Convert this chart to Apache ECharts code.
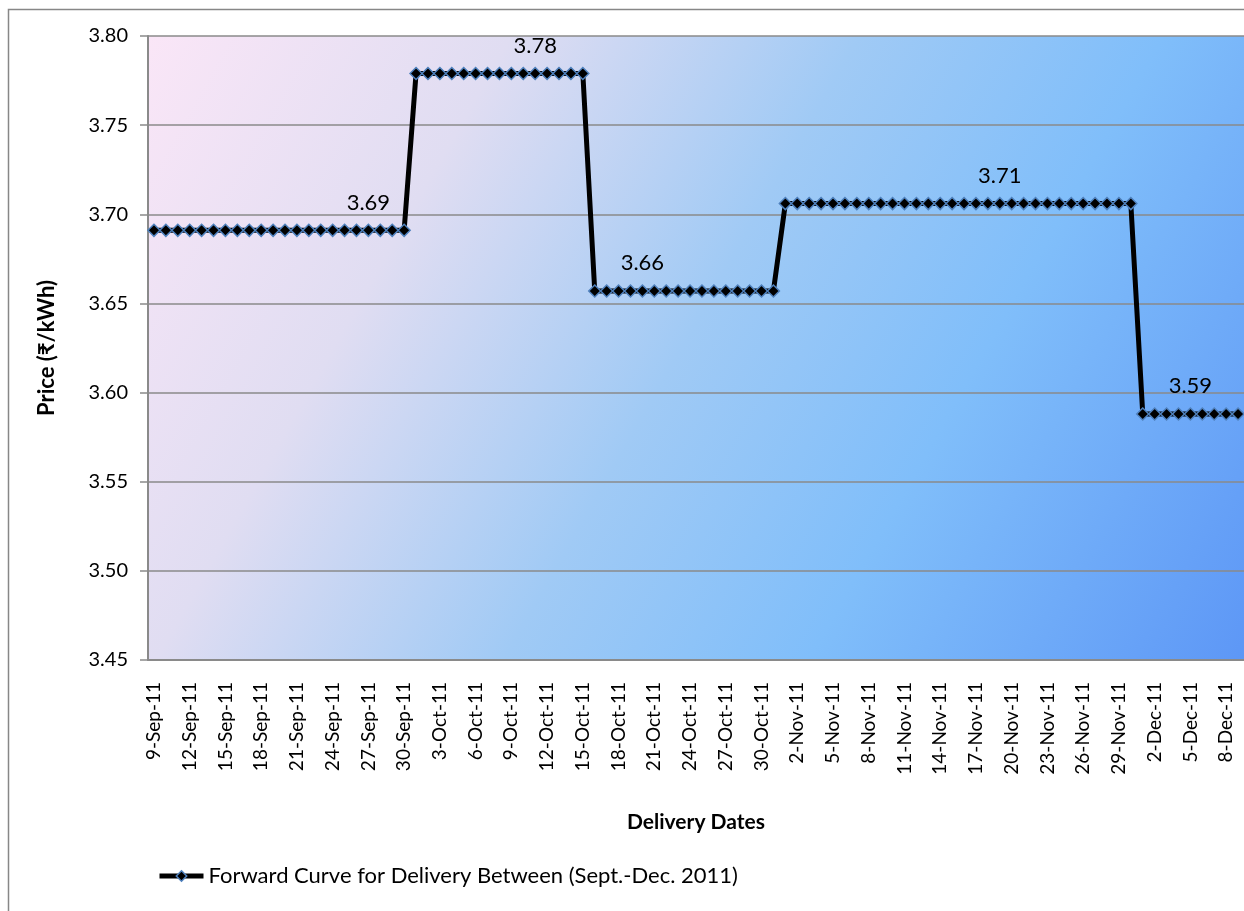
<!DOCTYPE html>
<html>
<head>
<meta charset="utf-8">
<style>
  html, body { margin: 0; padding: 0; background: #fff; }
  #chart { width: 1244px; height: 911px; }
</style>
<script src="https://cdn.jsdelivr.net/npm/echarts@6/dist/echarts.min.js"></script>
</head>
<body>
<div id="chart"></div>
<script>
// delivery dates, one per day
const dates = [
  '9-Sep-11', '10-Sep-11', '11-Sep-11', '12-Sep-11', '13-Sep-11', '14-Sep-11', '15-Sep-11', '16-Sep-11',
  '17-Sep-11', '18-Sep-11', '19-Sep-11', '20-Sep-11', '21-Sep-11', '22-Sep-11', '23-Sep-11', '24-Sep-11',
  '25-Sep-11', '26-Sep-11', '27-Sep-11', '28-Sep-11', '29-Sep-11', '30-Sep-11',
  '1-Oct-11', '2-Oct-11', '3-Oct-11', '4-Oct-11', '5-Oct-11', '6-Oct-11', '7-Oct-11', '8-Oct-11',
  '9-Oct-11', '10-Oct-11', '11-Oct-11', '12-Oct-11', '13-Oct-11', '14-Oct-11', '15-Oct-11',
  '16-Oct-11', '17-Oct-11', '18-Oct-11', '19-Oct-11', '20-Oct-11', '21-Oct-11', '22-Oct-11', '23-Oct-11',
  '24-Oct-11', '25-Oct-11', '26-Oct-11', '27-Oct-11', '28-Oct-11', '29-Oct-11', '30-Oct-11', '31-Oct-11',
  '1-Nov-11', '2-Nov-11', '3-Nov-11', '4-Nov-11', '5-Nov-11', '6-Nov-11', '7-Nov-11', '8-Nov-11',
  '9-Nov-11', '10-Nov-11', '11-Nov-11', '12-Nov-11', '13-Nov-11', '14-Nov-11', '15-Nov-11', '16-Nov-11',
  '17-Nov-11', '18-Nov-11', '19-Nov-11', '20-Nov-11', '21-Nov-11', '22-Nov-11', '23-Nov-11', '24-Nov-11',
  '25-Nov-11', '26-Nov-11', '27-Nov-11', '28-Nov-11', '29-Nov-11', '30-Nov-11',
  '1-Dec-11', '2-Dec-11', '3-Dec-11', '4-Dec-11', '5-Dec-11', '6-Dec-11', '7-Dec-11', '8-Dec-11', '9-Dec-11'
]

// forward price, Rs/kWh
const prices = [
  3.691, 3.691, 3.691, 3.691, 3.691, 3.691, 3.691, 3.691, 3.691, 3.691, 3.691,
  3.691, 3.691, 3.691, 3.691, 3.691, 3.691, 3.691, 3.691, 3.691, 3.691, 3.691,
  3.779, 3.779, 3.779, 3.779, 3.779, 3.779, 3.779, 3.779,
  3.779, 3.779, 3.779, 3.779, 3.779, 3.779, 3.779,
  3.657, 3.657, 3.657, 3.657, 3.657, 3.657, 3.657, 3.657,
  3.657, 3.657, 3.657, 3.657, 3.657, 3.657, 3.657, 3.657,
  3.706, 3.706, 3.706, 3.706, 3.706, 3.706, 3.706, 3.706, 3.706, 3.706,
  3.706, 3.706, 3.706, 3.706, 3.706, 3.706, 3.706, 3.706, 3.706, 3.706,
  3.706, 3.706, 3.706, 3.706, 3.706, 3.706, 3.706, 3.706, 3.706, 3.706,
  3.588, 3.588, 3.588, 3.588, 3.588, 3.588, 3.588, 3.588, 3.588
]

// points that carry a value label
const labelledDates = ['27-Sep-11', '11-Oct-11', '20-Oct-11', '19-Nov-11', '5-Dec-11']

const yTicks = { min: 3.45, max: 3.80, interval: 0.05 }

const font = 'Lato, "Noto Sans", "DejaVu Sans", sans-serif'
const gridGray = '#8a8a8a'

const chart = echarts.init(document.getElementById('chart'))

const seriesData = prices.map((value, i) => ({
  value,
  label: { show: labelledDates.includes(dates[i]) }
}))

const option = {
  backgroundColor: '#ffffff',
  animation: false,
  textStyle: { fontFamily: font },
  graphic: [{
    type: 'rect',
    shape: { x: 8.5, y: 9.5, width: 1400, height: 1000 },
    style: { fill: 'none', stroke: '#878787', lineWidth: 1.5 },
    silent: true,
    z: -1
  }],
  grid: {
    left: 148,
    top: 36,
    right: -1,
    bottom: 251,
    show: true,
    borderWidth: 0,
    backgroundColor: new echarts.graphic.LinearGradient(0, 0, 1, 1, [
      { offset: 0, color: '#fae6f7' },
      { offset: 0.25, color: '#e0ddf2' },
      { offset: 0.49, color: '#a0caf5' },
      { offset: 0.7, color: '#80befa' },
      { offset: 1, color: '#5d97f6' }
    ])
  },
  legend: {
    left: 152,
    top: 860,
    itemWidth: 44,
    itemHeight: 13,
    itemGap: 10,
    lineStyle: { width: 5, color: '#000' },
    itemStyle: { color: '#000', borderColor: '#4f81bd', borderWidth: 1.5 },
    textStyle: { fontFamily: font, fontSize: 22, color: '#000' },
    data: ['Forward Curve for Delivery Between (Sept.-Dec. 2011)']
  },
  xAxis: {
    type: 'category',
    boundaryGap: true,
    data: dates,
    name: 'Delivery Dates',
    nameLocation: 'middle',
    nameGap: 152,
    nameTextStyle: { fontFamily: font, fontSize: 21, fontWeight: 'bold', color: '#000' },
    axisLine: { show: true, lineStyle: { color: gridGray, width: 2 } },
    axisTick: { show: false },
    axisLabel: {
      interval: 2,
      rotate: 90,
      margin: 22,
      fontFamily: font,
      fontSize: 19,
      color: '#000'
    },
    splitLine: { show: false }
  },
  yAxis: {
    type: 'value',
    min: yTicks.min,
    max: yTicks.max,
    interval: yTicks.interval,
    name: 'Price (₹/kWh)',
    nameLocation: 'middle',
    nameGap: 90,
    nameTextStyle: { fontFamily: font, fontSize: 22, fontWeight: 'bold', color: '#000' },
    axisLine: { show: true, lineStyle: { color: gridGray, width: 2 } },
    axisTick: { show: true, inside: false, length: 8, lineStyle: { color: gridGray, width: 1.5 } },
    axisLabel: {
      margin: 20,
      fontFamily: font,
      fontSize: 20,
      color: '#000',
      formatter: (v) => v.toFixed(2)
    },
    splitLine: { show: true, lineStyle: { color: gridGray, width: 1.5 } }
  },
  series: [{
    name: 'Forward Curve for Delivery Between (Sept.-Dec. 2011)',
    type: 'line',
    data: seriesData,
    symbol: 'diamond',
    symbolSize: 12,
    showAllSymbol: true,
    lineStyle: { color: '#000', width: 5 },
    itemStyle: { color: '#000', borderColor: '#4f81bd', borderWidth: 1.5 },
    label: {
      position: 'top',
      distance: 10,
      fontFamily: font,
      fontSize: 22,
      color: '#000',
      formatter: (p) => p.value.toFixed(2)
    }
  }]
}

chart.setOption(option)
</script>
</body>
</html>
